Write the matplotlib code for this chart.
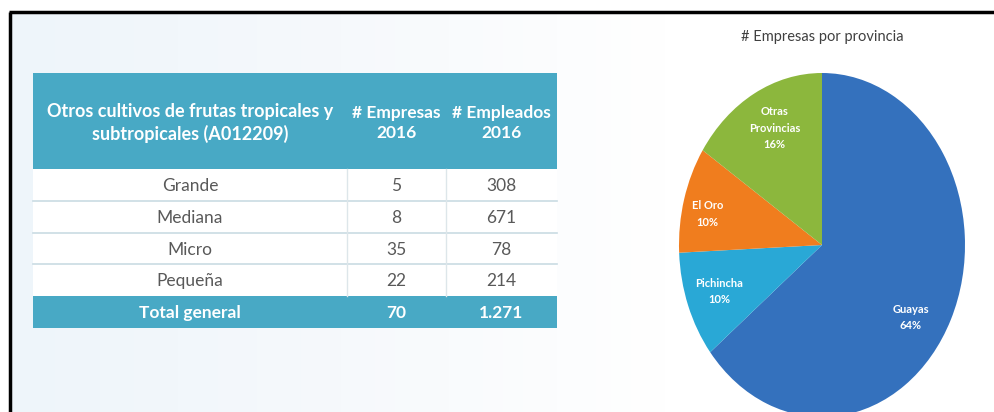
import numpy as np
import matplotlib.pyplot as plt
from matplotlib.patches import Rectangle
from matplotlib.colors import LinearSegmentedColormap

plt.rcParams['font.family'] = ['Lato', 'DejaVu Sans']

# table data
header = ["Otros cultivos de frutas tropicales y\nsubtropicales (A012209)",
          "# Empresas\n2016", "# Empleados\n2016"]
tamanos = ["Grande", "Mediana", "Micro", "Pequeña"]
empresas = [5, 8, 35, 22]
empleados = [308, 671, 78, 214]

# pie data
provincias = ["Guayas", "Pichincha", "El Oro", "Otras\nProvincias"]
emp_prov = [45, 7, 7, 11]
colores = ["#3471bd", "#29a8d6", "#f07d1e", "#8cb73d"]

teal = "#48a9c5"
gris = "#595959"
linea = "#c9dbe3"

W, H = 995, 412
fig = plt.figure(figsize=(W / 100, H / 100), dpi=100)
fig.patch.set_facecolor("white")

bg = fig.add_axes([0, 0, 1, 1])
bg.set_xlim(0, W)
bg.set_ylim(H, 0)
bg.axis("off")

# soft background gradient
grad = np.linspace(0, 1, 200).reshape(1, -1)
cmap = LinearSegmentedColormap.from_list("g", ["#eef5fa", "#f6f9fc", "#ffffff", "#ffffff"])
bg.imshow(grad, extent=[11, W, H, 12], cmap=cmap, aspect="auto", zorder=0)
# frame
bg.plot([10, 10], [H, 12], color="black", lw=2.5, zorder=5, solid_capstyle="butt")
bg.plot([9, W], [12, 12], color="black", lw=2.5, zorder=5, solid_capstyle="butt")

# table geometry (pixels)
cols = [33, 347, 446, 557]
head_top, head_bot = 73, 169
row_h = 31.8

bg.add_patch(Rectangle((cols[0], head_top), cols[-1] - cols[0], head_bot - head_top,
                       facecolor=teal, edgecolor="none", zorder=2))
for j, txt in enumerate(header):
    cx = (cols[j] + cols[j + 1]) / 2
    bg.text(cx, (head_top + head_bot) / 2 + 2, txt, ha="center", va="center",
            color="white", fontsize=13 if j == 0 else 12.5, fontweight="bold",
            linespacing=1.35, zorder=3)

n = len(tamanos)
for i in range(n):
    y0 = head_bot + i * row_h
    bg.add_patch(Rectangle((cols[0], y0), cols[-1] - cols[0], row_h,
                           facecolor="white", edgecolor="none", zorder=2))
    vals = [tamanos[i], str(empresas[i]), str(empleados[i])]
    for j, v in enumerate(vals):
        cx = (cols[j] + cols[j + 1]) / 2
        bg.text(cx, y0 + row_h / 2 + 1, v, ha="center", va="center",
                color=gris, fontsize=12.5, zorder=3)
    if i > 0:
        bg.plot([cols[0], cols[-1]], [y0, y0], color=linea, lw=1.2, zorder=3)
body_bot = head_bot + n * row_h
for x in cols[1:3]:
    bg.plot([x, x], [head_bot, body_bot], color="#dde6ea", lw=1, zorder=3)

# total row
bg.add_patch(Rectangle((cols[0], body_bot), cols[-1] - cols[0], row_h,
                       facecolor=teal, edgecolor="none", zorder=2))
tot_emp = sum(empresas)
tot_empl = f"{sum(empleados):,}".replace(",", ".")
for j, v in enumerate(["Total general", str(tot_emp), tot_empl]):
    cx = (cols[j] + cols[j + 1]) / 2
    bg.text(cx, body_bot + row_h / 2 + 1, v, ha="center", va="center",
            color="white", fontsize=12.5, fontweight="bold", zorder=3)

# pie title
bg.text(822, 37, "# Empresas por provincia", ha="center", va="center",
        color="#404040", fontsize=10.5, zorder=3)

# pie (ellipse, stretched vertically)
cx, cy, rx, ry = 822, 245, 143, 172
pax = fig.add_axes([(cx - rx) / W, (H - cy - ry) / H, 2 * rx / W, 2 * ry / H])
wedges, texts = pax.pie(emp_prov, colors=colores, startangle=90, counterclock=False,
                        wedgeprops=dict(edgecolor="none"))
pax.set_aspect("auto")
pax.set_xlim(-1, 1)
pax.set_ylim(-1, 1)
pax.axis("off")

total = sum(emp_prov)
lab_pos = [(0.62, -0.42), (-0.72, -0.27), (-0.80, 0.18), (-0.33, 0.68)]
for name, v, (lx, ly) in zip(provincias, emp_prov, lab_pos):
    pax.text(lx, ly, f"{name}\n{round(100 * v / total)}%", ha="center", va="center",
             color="white", fontsize=8, fontweight="bold", linespacing=1.6)

fig.savefig("out.png", dpi=100)
